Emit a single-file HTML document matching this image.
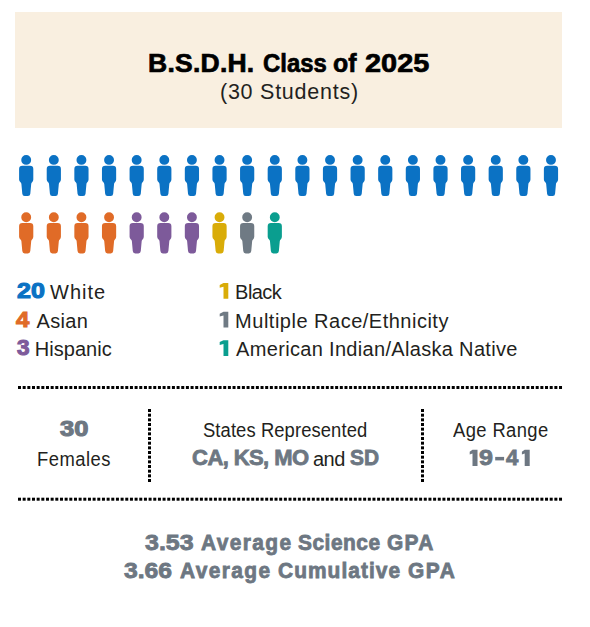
<!DOCTYPE html>
<html><head><meta charset="utf-8">
<style>
html,body{margin:0;padding:0;background:#fff;}
body{width:590px;height:627px;position:relative;overflow:hidden;font-family:"Liberation Sans",sans-serif;}
.t{position:absolute;white-space:nowrap;line-height:1;}
#banner{position:absolute;left:15px;top:12px;width:546.5px;height:115.5px;background:#F9EFE0;}
svg{position:absolute;left:0;top:0;}
</style></head><body>
<div id="banner"></div>
<svg width="590" height="627" viewBox="0 0 590 627">
<defs><path id="p" d="M0,14.1Q0,10.8 3.3,10.8L10.9,10.8Q14.2,10.8 14.2,14.1L14.2,24.6Q14.2,26.4 13.0,27.4Q12.2,28.0 12.1,29.0L11.2,38.9Q11.0,41.2 8.8,41.2L5.6,41.2Q3.4,41.2 3.2,38.9L2.3,29.0Q2.2,28.0 1.4,27.4Q0,26.4 0,24.6Z M12.05,5A4.95,4.95 0 1 1 2.15,5A4.95,4.95 0 1 1 12.05,5Z"/><path id="one2" d="M2.8,0L7.8,0L7.8,16.3L2.8,16.3L2.8,3.9L0,4.9L0,2.0Z"/><path id="one" d="M3.9,0L8.7,0L8.7,15.8L3.9,15.8L3.9,3.7L0.1,4.7L0.1,1.9Z"/></defs>
<use href="#p" x="19.10" y="154.90" fill="#0B72C4"/><use href="#p" x="46.72" y="154.90" fill="#0B72C4"/><use href="#p" x="74.34" y="154.90" fill="#0B72C4"/><use href="#p" x="101.96" y="154.90" fill="#0B72C4"/><use href="#p" x="129.58" y="154.90" fill="#0B72C4"/><use href="#p" x="157.20" y="154.90" fill="#0B72C4"/><use href="#p" x="184.82" y="154.90" fill="#0B72C4"/><use href="#p" x="212.44" y="154.90" fill="#0B72C4"/><use href="#p" x="240.06" y="154.90" fill="#0B72C4"/><use href="#p" x="267.68" y="154.90" fill="#0B72C4"/><use href="#p" x="295.30" y="154.90" fill="#0B72C4"/><use href="#p" x="322.92" y="154.90" fill="#0B72C4"/><use href="#p" x="350.54" y="154.90" fill="#0B72C4"/><use href="#p" x="378.16" y="154.90" fill="#0B72C4"/><use href="#p" x="405.78" y="154.90" fill="#0B72C4"/><use href="#p" x="433.40" y="154.90" fill="#0B72C4"/><use href="#p" x="461.02" y="154.90" fill="#0B72C4"/><use href="#p" x="488.64" y="154.90" fill="#0B72C4"/><use href="#p" x="516.26" y="154.90" fill="#0B72C4"/><use href="#p" x="543.88" y="154.90" fill="#0B72C4"/><use href="#p" x="19.10" y="212.20" fill="#E06B27"/><use href="#p" x="46.72" y="212.20" fill="#E06B27"/><use href="#p" x="74.34" y="212.20" fill="#E06B27"/><use href="#p" x="101.96" y="212.20" fill="#E06B27"/><use href="#p" x="129.58" y="212.20" fill="#7D5A9A"/><use href="#p" x="157.20" y="212.20" fill="#7D5A9A"/><use href="#p" x="184.82" y="212.20" fill="#7D5A9A"/><use href="#p" x="212.44" y="212.20" fill="#D9AC08"/><use href="#p" x="240.06" y="212.20" fill="#6F7A84"/><use href="#p" x="267.68" y="212.20" fill="#0A9E8F"/>
<g fill="#000"><rect x="18.00" y="386" width="3" height="3"/><rect x="22.66" y="386" width="3" height="3"/><rect x="27.33" y="386" width="3" height="3"/><rect x="31.99" y="386" width="3" height="3"/><rect x="36.66" y="386" width="3" height="3"/><rect x="41.32" y="386" width="3" height="3"/><rect x="45.98" y="386" width="3" height="3"/><rect x="50.65" y="386" width="3" height="3"/><rect x="55.31" y="386" width="3" height="3"/><rect x="59.98" y="386" width="3" height="3"/><rect x="64.64" y="386" width="3" height="3"/><rect x="69.30" y="386" width="3" height="3"/><rect x="73.97" y="386" width="3" height="3"/><rect x="78.63" y="386" width="3" height="3"/><rect x="83.30" y="386" width="3" height="3"/><rect x="87.96" y="386" width="3" height="3"/><rect x="92.62" y="386" width="3" height="3"/><rect x="97.29" y="386" width="3" height="3"/><rect x="101.95" y="386" width="3" height="3"/><rect x="106.62" y="386" width="3" height="3"/><rect x="111.28" y="386" width="3" height="3"/><rect x="115.94" y="386" width="3" height="3"/><rect x="120.61" y="386" width="3" height="3"/><rect x="125.27" y="386" width="3" height="3"/><rect x="129.94" y="386" width="3" height="3"/><rect x="134.60" y="386" width="3" height="3"/><rect x="139.26" y="386" width="3" height="3"/><rect x="143.93" y="386" width="3" height="3"/><rect x="148.59" y="386" width="3" height="3"/><rect x="153.26" y="386" width="3" height="3"/><rect x="157.92" y="386" width="3" height="3"/><rect x="162.58" y="386" width="3" height="3"/><rect x="167.25" y="386" width="3" height="3"/><rect x="171.91" y="386" width="3" height="3"/><rect x="176.58" y="386" width="3" height="3"/><rect x="181.24" y="386" width="3" height="3"/><rect x="185.90" y="386" width="3" height="3"/><rect x="190.57" y="386" width="3" height="3"/><rect x="195.23" y="386" width="3" height="3"/><rect x="199.90" y="386" width="3" height="3"/><rect x="204.56" y="386" width="3" height="3"/><rect x="209.22" y="386" width="3" height="3"/><rect x="213.89" y="386" width="3" height="3"/><rect x="218.55" y="386" width="3" height="3"/><rect x="223.22" y="386" width="3" height="3"/><rect x="227.88" y="386" width="3" height="3"/><rect x="232.54" y="386" width="3" height="3"/><rect x="237.21" y="386" width="3" height="3"/><rect x="241.87" y="386" width="3" height="3"/><rect x="246.54" y="386" width="3" height="3"/><rect x="251.20" y="386" width="3" height="3"/><rect x="255.86" y="386" width="3" height="3"/><rect x="260.53" y="386" width="3" height="3"/><rect x="265.19" y="386" width="3" height="3"/><rect x="269.86" y="386" width="3" height="3"/><rect x="274.52" y="386" width="3" height="3"/><rect x="279.18" y="386" width="3" height="3"/><rect x="283.85" y="386" width="3" height="3"/><rect x="288.51" y="386" width="3" height="3"/><rect x="293.18" y="386" width="3" height="3"/><rect x="297.84" y="386" width="3" height="3"/><rect x="302.50" y="386" width="3" height="3"/><rect x="307.17" y="386" width="3" height="3"/><rect x="311.83" y="386" width="3" height="3"/><rect x="316.50" y="386" width="3" height="3"/><rect x="321.16" y="386" width="3" height="3"/><rect x="325.82" y="386" width="3" height="3"/><rect x="330.49" y="386" width="3" height="3"/><rect x="335.15" y="386" width="3" height="3"/><rect x="339.82" y="386" width="3" height="3"/><rect x="344.48" y="386" width="3" height="3"/><rect x="349.14" y="386" width="3" height="3"/><rect x="353.81" y="386" width="3" height="3"/><rect x="358.47" y="386" width="3" height="3"/><rect x="363.14" y="386" width="3" height="3"/><rect x="367.80" y="386" width="3" height="3"/><rect x="372.46" y="386" width="3" height="3"/><rect x="377.13" y="386" width="3" height="3"/><rect x="381.79" y="386" width="3" height="3"/><rect x="386.46" y="386" width="3" height="3"/><rect x="391.12" y="386" width="3" height="3"/><rect x="395.78" y="386" width="3" height="3"/><rect x="400.45" y="386" width="3" height="3"/><rect x="405.11" y="386" width="3" height="3"/><rect x="409.78" y="386" width="3" height="3"/><rect x="414.44" y="386" width="3" height="3"/><rect x="419.10" y="386" width="3" height="3"/><rect x="423.77" y="386" width="3" height="3"/><rect x="428.43" y="386" width="3" height="3"/><rect x="433.10" y="386" width="3" height="3"/><rect x="437.76" y="386" width="3" height="3"/><rect x="442.42" y="386" width="3" height="3"/><rect x="447.09" y="386" width="3" height="3"/><rect x="451.75" y="386" width="3" height="3"/><rect x="456.42" y="386" width="3" height="3"/><rect x="461.08" y="386" width="3" height="3"/><rect x="465.74" y="386" width="3" height="3"/><rect x="470.41" y="386" width="3" height="3"/><rect x="475.07" y="386" width="3" height="3"/><rect x="479.74" y="386" width="3" height="3"/><rect x="484.40" y="386" width="3" height="3"/><rect x="489.06" y="386" width="3" height="3"/><rect x="493.73" y="386" width="3" height="3"/><rect x="498.39" y="386" width="3" height="3"/><rect x="503.06" y="386" width="3" height="3"/><rect x="507.72" y="386" width="3" height="3"/><rect x="512.38" y="386" width="3" height="3"/><rect x="517.05" y="386" width="3" height="3"/><rect x="521.71" y="386" width="3" height="3"/><rect x="526.38" y="386" width="3" height="3"/><rect x="531.04" y="386" width="3" height="3"/><rect x="535.70" y="386" width="3" height="3"/><rect x="540.37" y="386" width="3" height="3"/><rect x="545.03" y="386" width="3" height="3"/><rect x="549.70" y="386" width="3" height="3"/><rect x="554.36" y="386" width="3" height="3"/><rect x="559.02" y="386" width="3" height="3"/><rect x="18.00" y="497.7" width="3" height="3"/><rect x="22.66" y="497.7" width="3" height="3"/><rect x="27.33" y="497.7" width="3" height="3"/><rect x="31.99" y="497.7" width="3" height="3"/><rect x="36.66" y="497.7" width="3" height="3"/><rect x="41.32" y="497.7" width="3" height="3"/><rect x="45.98" y="497.7" width="3" height="3"/><rect x="50.65" y="497.7" width="3" height="3"/><rect x="55.31" y="497.7" width="3" height="3"/><rect x="59.98" y="497.7" width="3" height="3"/><rect x="64.64" y="497.7" width="3" height="3"/><rect x="69.30" y="497.7" width="3" height="3"/><rect x="73.97" y="497.7" width="3" height="3"/><rect x="78.63" y="497.7" width="3" height="3"/><rect x="83.30" y="497.7" width="3" height="3"/><rect x="87.96" y="497.7" width="3" height="3"/><rect x="92.62" y="497.7" width="3" height="3"/><rect x="97.29" y="497.7" width="3" height="3"/><rect x="101.95" y="497.7" width="3" height="3"/><rect x="106.62" y="497.7" width="3" height="3"/><rect x="111.28" y="497.7" width="3" height="3"/><rect x="115.94" y="497.7" width="3" height="3"/><rect x="120.61" y="497.7" width="3" height="3"/><rect x="125.27" y="497.7" width="3" height="3"/><rect x="129.94" y="497.7" width="3" height="3"/><rect x="134.60" y="497.7" width="3" height="3"/><rect x="139.26" y="497.7" width="3" height="3"/><rect x="143.93" y="497.7" width="3" height="3"/><rect x="148.59" y="497.7" width="3" height="3"/><rect x="153.26" y="497.7" width="3" height="3"/><rect x="157.92" y="497.7" width="3" height="3"/><rect x="162.58" y="497.7" width="3" height="3"/><rect x="167.25" y="497.7" width="3" height="3"/><rect x="171.91" y="497.7" width="3" height="3"/><rect x="176.58" y="497.7" width="3" height="3"/><rect x="181.24" y="497.7" width="3" height="3"/><rect x="185.90" y="497.7" width="3" height="3"/><rect x="190.57" y="497.7" width="3" height="3"/><rect x="195.23" y="497.7" width="3" height="3"/><rect x="199.90" y="497.7" width="3" height="3"/><rect x="204.56" y="497.7" width="3" height="3"/><rect x="209.22" y="497.7" width="3" height="3"/><rect x="213.89" y="497.7" width="3" height="3"/><rect x="218.55" y="497.7" width="3" height="3"/><rect x="223.22" y="497.7" width="3" height="3"/><rect x="227.88" y="497.7" width="3" height="3"/><rect x="232.54" y="497.7" width="3" height="3"/><rect x="237.21" y="497.7" width="3" height="3"/><rect x="241.87" y="497.7" width="3" height="3"/><rect x="246.54" y="497.7" width="3" height="3"/><rect x="251.20" y="497.7" width="3" height="3"/><rect x="255.86" y="497.7" width="3" height="3"/><rect x="260.53" y="497.7" width="3" height="3"/><rect x="265.19" y="497.7" width="3" height="3"/><rect x="269.86" y="497.7" width="3" height="3"/><rect x="274.52" y="497.7" width="3" height="3"/><rect x="279.18" y="497.7" width="3" height="3"/><rect x="283.85" y="497.7" width="3" height="3"/><rect x="288.51" y="497.7" width="3" height="3"/><rect x="293.18" y="497.7" width="3" height="3"/><rect x="297.84" y="497.7" width="3" height="3"/><rect x="302.50" y="497.7" width="3" height="3"/><rect x="307.17" y="497.7" width="3" height="3"/><rect x="311.83" y="497.7" width="3" height="3"/><rect x="316.50" y="497.7" width="3" height="3"/><rect x="321.16" y="497.7" width="3" height="3"/><rect x="325.82" y="497.7" width="3" height="3"/><rect x="330.49" y="497.7" width="3" height="3"/><rect x="335.15" y="497.7" width="3" height="3"/><rect x="339.82" y="497.7" width="3" height="3"/><rect x="344.48" y="497.7" width="3" height="3"/><rect x="349.14" y="497.7" width="3" height="3"/><rect x="353.81" y="497.7" width="3" height="3"/><rect x="358.47" y="497.7" width="3" height="3"/><rect x="363.14" y="497.7" width="3" height="3"/><rect x="367.80" y="497.7" width="3" height="3"/><rect x="372.46" y="497.7" width="3" height="3"/><rect x="377.13" y="497.7" width="3" height="3"/><rect x="381.79" y="497.7" width="3" height="3"/><rect x="386.46" y="497.7" width="3" height="3"/><rect x="391.12" y="497.7" width="3" height="3"/><rect x="395.78" y="497.7" width="3" height="3"/><rect x="400.45" y="497.7" width="3" height="3"/><rect x="405.11" y="497.7" width="3" height="3"/><rect x="409.78" y="497.7" width="3" height="3"/><rect x="414.44" y="497.7" width="3" height="3"/><rect x="419.10" y="497.7" width="3" height="3"/><rect x="423.77" y="497.7" width="3" height="3"/><rect x="428.43" y="497.7" width="3" height="3"/><rect x="433.10" y="497.7" width="3" height="3"/><rect x="437.76" y="497.7" width="3" height="3"/><rect x="442.42" y="497.7" width="3" height="3"/><rect x="447.09" y="497.7" width="3" height="3"/><rect x="451.75" y="497.7" width="3" height="3"/><rect x="456.42" y="497.7" width="3" height="3"/><rect x="461.08" y="497.7" width="3" height="3"/><rect x="465.74" y="497.7" width="3" height="3"/><rect x="470.41" y="497.7" width="3" height="3"/><rect x="475.07" y="497.7" width="3" height="3"/><rect x="479.74" y="497.7" width="3" height="3"/><rect x="484.40" y="497.7" width="3" height="3"/><rect x="489.06" y="497.7" width="3" height="3"/><rect x="493.73" y="497.7" width="3" height="3"/><rect x="498.39" y="497.7" width="3" height="3"/><rect x="503.06" y="497.7" width="3" height="3"/><rect x="507.72" y="497.7" width="3" height="3"/><rect x="512.38" y="497.7" width="3" height="3"/><rect x="517.05" y="497.7" width="3" height="3"/><rect x="521.71" y="497.7" width="3" height="3"/><rect x="526.38" y="497.7" width="3" height="3"/><rect x="531.04" y="497.7" width="3" height="3"/><rect x="535.70" y="497.7" width="3" height="3"/><rect x="540.37" y="497.7" width="3" height="3"/><rect x="545.03" y="497.7" width="3" height="3"/><rect x="549.70" y="497.7" width="3" height="3"/><rect x="554.36" y="497.7" width="3" height="3"/><rect x="559.02" y="497.7" width="3" height="3"/><rect x="148" y="409.00" width="3" height="3"/><rect x="148" y="413.67" width="3" height="3"/><rect x="148" y="418.33" width="3" height="3"/><rect x="148" y="423.00" width="3" height="3"/><rect x="148" y="427.67" width="3" height="3"/><rect x="148" y="432.33" width="3" height="3"/><rect x="148" y="437.00" width="3" height="3"/><rect x="148" y="441.67" width="3" height="3"/><rect x="148" y="446.34" width="3" height="3"/><rect x="148" y="451.00" width="3" height="3"/><rect x="148" y="455.67" width="3" height="3"/><rect x="148" y="460.34" width="3" height="3"/><rect x="148" y="465.00" width="3" height="3"/><rect x="148" y="469.67" width="3" height="3"/><rect x="148" y="474.34" width="3" height="3"/><rect x="148" y="479.00" width="3" height="3"/><rect x="421" y="409.00" width="3" height="3"/><rect x="421" y="413.67" width="3" height="3"/><rect x="421" y="418.33" width="3" height="3"/><rect x="421" y="423.00" width="3" height="3"/><rect x="421" y="427.67" width="3" height="3"/><rect x="421" y="432.33" width="3" height="3"/><rect x="421" y="437.00" width="3" height="3"/><rect x="421" y="441.67" width="3" height="3"/><rect x="421" y="446.34" width="3" height="3"/><rect x="421" y="451.00" width="3" height="3"/><rect x="421" y="455.67" width="3" height="3"/><rect x="421" y="460.34" width="3" height="3"/><rect x="421" y="465.00" width="3" height="3"/><rect x="421" y="469.67" width="3" height="3"/><rect x="421" y="474.34" width="3" height="3"/><rect x="421" y="479.00" width="3" height="3"/></g>
<use href="#one" x="219.6" y="283.0" fill="#D9AC08"/><use href="#one" x="219.6" y="311.8" fill="#6F7A84"/><use href="#one" x="219.6" y="340.2" fill="#0A9E8F"/><use href="#one2" x="469.7" y="449.7" fill="#6D7782"/><use href="#one2" x="521.9" y="449.7" fill="#6D7782"/><rect x="495.2" y="456.9" width="8.9" height="3.5" fill="#6D7782"/>
</svg>
<div class="t" style="left:148.0px;top:50.3px;font-size:26.5px;font-weight:700;letter-spacing:0.24px;color:#000;-webkit-text-stroke:0.7px #000;">B.S.D.H.</div>
<div class="t" style="left:263.2px;top:50.3px;font-size:26.5px;font-weight:700;letter-spacing:0.0px;color:#000;-webkit-text-stroke:0.7px #000;transform:scaleX(0.901);transform-origin:0 0;">Class</div>
<div class="t" style="left:333.4px;top:50.3px;font-size:26.5px;font-weight:700;letter-spacing:0.0px;color:#000;-webkit-text-stroke:0.7px #000;transform:scaleX(0.938);transform-origin:0 0;">of</div>
<div class="t" style="left:365.0px;top:50.3px;font-size:26.5px;font-weight:700;letter-spacing:0.0px;color:#000;-webkit-text-stroke:0.7px #000;transform:scaleX(1.090);transform-origin:0 0;">2025</div>
<div class="t" style="left:220.0px;top:82.4px;font-size:21.5px;font-weight:400;letter-spacing:0.75px;color:#231F20;">(30 Students)</div>
<div class="t" style="left:16.9px;top:280.2px;font-size:22px;font-weight:700;letter-spacing:0.0px;color:#0B72C4;-webkit-text-stroke:1.1px #0B72C4;transform:scaleX(1.138);transform-origin:0 0;">20</div>
<div class="t" style="left:50.1px;top:281.9px;font-size:20px;font-weight:400;letter-spacing:0.95px;color:#231F20;">White</div>
<div class="t" style="left:16.1px;top:309.0px;font-size:22px;font-weight:700;letter-spacing:0.0px;color:#E06B27;-webkit-text-stroke:1.1px #E06B27;transform:scaleX(1.085);transform-origin:0 0;">4</div>
<div class="t" style="left:36.5px;top:310.7px;font-size:20px;font-weight:400;letter-spacing:0.35px;color:#231F20;">Asian</div>
<div class="t" style="left:16.5px;top:337.2px;font-size:22px;font-weight:700;letter-spacing:0.0px;color:#7D5A9A;-webkit-text-stroke:1.1px #7D5A9A;transform:scaleX(1.025);transform-origin:0 0;">3</div>
<div class="t" style="left:34.8px;top:338.9px;font-size:20px;font-weight:400;letter-spacing:0.03px;color:#231F20;">Hispanic</div>
<div class="t" style="left:235.1px;top:281.9px;font-size:20px;font-weight:400;letter-spacing:-0.55px;color:#231F20;">Black</div>
<div class="t" style="left:235.1px;top:310.7px;font-size:20px;font-weight:400;letter-spacing:0.5px;color:#231F20;">Multiple Race/Ethnicity</div>
<div class="t" style="left:236.1px;top:338.9px;font-size:20px;font-weight:400;letter-spacing:0.32px;color:#231F20;">American Indian/Alaska Native</div>
<div class="t" style="left:60.0px;top:418.0px;font-size:22px;font-weight:700;letter-spacing:0.0px;color:#6D7782;-webkit-text-stroke:1.1px #6D7782;transform:scaleX(1.158);transform-origin:0 0;">30</div>
<div class="t" style="left:36.8px;top:449.1px;font-size:20px;font-weight:400;letter-spacing:0.54px;color:#231F20;transform:scaleX(0.920);transform-origin:0 0;">Females</div>
<div class="t" style="left:203.0px;top:419.8px;font-size:20px;font-weight:400;letter-spacing:0.1px;color:#231F20;transform:scaleX(0.920);transform-origin:0 0;">States Represented</div>
<div class="t" style="left:192.1px;top:446.9px;font-size:22px;font-weight:700;letter-spacing:-0.59px;color:#6D7782;-webkit-text-stroke:0.8px #6D7782;">CA, KS, MO</div>
<div class="t" style="left:312.9px;top:448.6px;font-size:20px;font-weight:400;letter-spacing:-0.45px;color:#231F20;">and</div>
<div class="t" style="left:349.8px;top:446.9px;font-size:22px;font-weight:700;letter-spacing:0.0px;color:#6D7782;-webkit-text-stroke:0.8px #6D7782;transform:scaleX(0.950);transform-origin:0 0;">SD</div>
<div class="t" style="left:453.2px;top:419.7px;font-size:20px;font-weight:400;letter-spacing:0.43px;color:#231F20;transform:scaleX(0.920);transform-origin:0 0;">Age Range</div>
<div class="t" style="left:479.2px;top:447.3px;font-size:22px;font-weight:700;letter-spacing:0.0px;color:#6D7782;-webkit-text-stroke:0.8px #6D7782;transform:scaleX(1.142);transform-origin:0 0;">9</div>
<div class="t" style="left:505.9px;top:447.3px;font-size:22px;font-weight:700;letter-spacing:0.0px;color:#6D7782;-webkit-text-stroke:0.8px #6D7782;transform:scaleX(1.008);transform-origin:0 0;">4</div>
<div class="t" style="left:144.6px;top:532.0px;font-size:22px;font-weight:700;letter-spacing:0.0px;color:#6D7782;-webkit-text-stroke:0.8px #6D7782;transform:scaleX(1.135);transform-origin:0 0;">3.53</div>
<div class="t" style="left:200.5px;top:532.0px;font-size:22px;font-weight:700;letter-spacing:1.46px;color:#6D7782;-webkit-text-stroke:0.8px #6D7782;transform:scaleX(0.950);transform-origin:0 0;">Average</div>
<div class="t" style="left:297.6px;top:532.0px;font-size:22px;font-weight:700;letter-spacing:0.54px;color:#6D7782;-webkit-text-stroke:0.8px #6D7782;transform:scaleX(0.950);transform-origin:0 0;">Science</div>
<div class="t" style="left:386.6px;top:532.0px;font-size:22px;font-weight:700;letter-spacing:1.37px;color:#6D7782;-webkit-text-stroke:0.8px #6D7782;transform:scaleX(0.950);transform-origin:0 0;">GPA</div>
<div class="t" style="left:123.6px;top:559.9px;font-size:22px;font-weight:700;letter-spacing:0.0px;color:#6D7782;-webkit-text-stroke:0.8px #6D7782;transform:scaleX(1.123);transform-origin:0 0;">3.66</div>
<div class="t" style="left:180.2px;top:559.9px;font-size:22px;font-weight:700;letter-spacing:1.46px;color:#6D7782;-webkit-text-stroke:0.8px #6D7782;transform:scaleX(0.950);transform-origin:0 0;">Average</div>
<div class="t" style="left:278.3px;top:559.9px;font-size:22px;font-weight:700;letter-spacing:1.1px;color:#6D7782;-webkit-text-stroke:0.8px #6D7782;transform:scaleX(0.950);transform-origin:0 0;">Cumulative</div>
<div class="t" style="left:407.5px;top:559.9px;font-size:22px;font-weight:700;letter-spacing:1.63px;color:#6D7782;-webkit-text-stroke:0.8px #6D7782;transform:scaleX(0.950);transform-origin:0 0;">GPA</div>
</body></html>
